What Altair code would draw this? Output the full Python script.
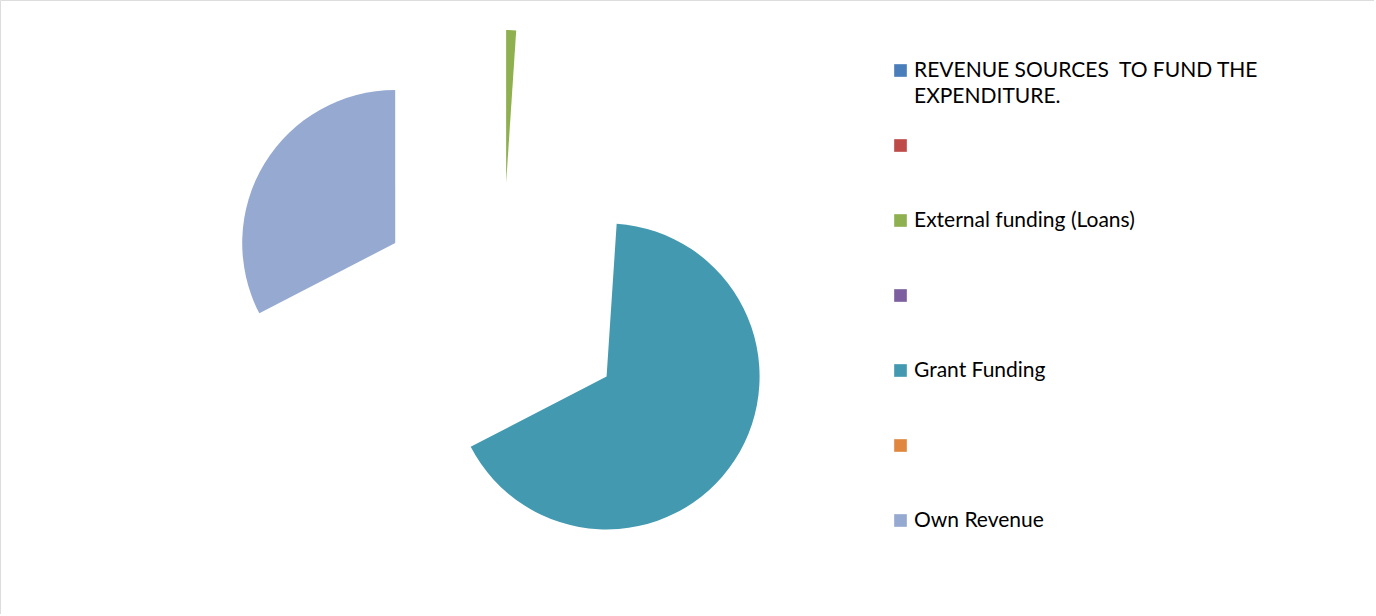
import altair as alt
import pandas as pd

# Slice data (percent shares)
slice_names = ["External funding (Loans)", "Grant Funding", "Own Revenue"]
slice_values = [1.05, 66.35, 32.6]

# Legend entries (blank entries kept distinct with different numbers of spaces)
legend_labels = [
    "REVENUE SOURCES\u00a0 TO FUND THE|EXPENDITURE.",
    " ",
    "External funding (Loans)",
    "  ",
    "Grant Funding",
    "   ",
    "Own Revenue",
]
legend_colors = ["#4A7EBB", "#BE4B48", "#8FB04F", "#7D5FA0", "#4299B0", "#E0873F", "#95A9D1"]

df = pd.DataFrame({"name": slice_names, "value": slice_values, "order": list(range(len(slice_names)))})

CX, CY, EXPLODE, R = 502, 308, 125, 153

base = alt.Chart(df).transform_joinaggregate(
    total="sum(value)"
).transform_window(
    cum="sum(value)", sort=[alt.SortField("order")], frame=[None, 0]
).transform_calculate(
    t1="datum.cum / datum.total * 2 * PI",
    t0="(datum.cum - datum.value) / datum.total * 2 * PI",
).transform_calculate(
    mid="(datum.t0 + datum.t1) / 2"
).transform_calculate(
    px=f"{CX} + {EXPLODE} * sin(datum.mid)",
    py=f"{CY} - {EXPLODE} * cos(datum.mid)",
)

pie = base.mark_arc(outerRadius=R, stroke=None).encode(
    x=alt.X("px:Q", scale=None, axis=None),
    y=alt.Y("py:Q", scale=None, axis=None),
    theta=alt.Theta("t0:Q", scale=None),
    theta2="t1:Q",
    color=alt.Color(
        "name:N",
        scale=alt.Scale(domain=legend_labels, range=legend_colors),
        legend=alt.Legend(
            title=None,
            orient="none",
            legendX=890,
            legendY=60,
            symbolType="square",
            symbolSize=160,
            symbolStrokeWidth=0,
            labelFont="Lato",
            labelFontSize=21,
            labelColor="#000000",
            labelOffset=3,
            labelLimit=400,
            rowPadding=27,
            gridAlign="all",
            labelExpr="split(datum.label, '|')",
        ),
    ),
)

chart = pie.properties(
    width=1374,
    height=614,
    padding=0,
    autosize=alt.AutoSizeParams(type="none"),
).configure_view(
    stroke="#808080", strokeWidth=2
).configure(
    background="white",
    style={"guide-label": {"lineHeight": 26}},
)

chart.save("out.html", embed_options={"renderer": "svg", "actions": False})
